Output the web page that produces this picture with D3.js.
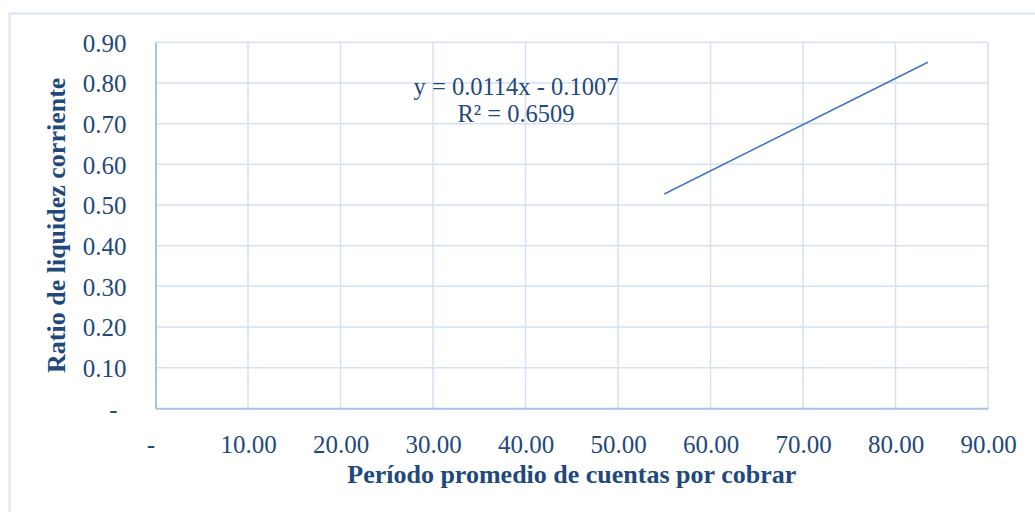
<!DOCTYPE html>
<html>
<head>
<meta charset="utf-8">
<script src="https://cdn.jsdelivr.net/npm/d3@7"></script>
<style>
  body { margin: 0; background: #fff; }
  svg { display: block; }
  .grid line { stroke: #d5e1f3; stroke-width: 1.5; }
  .tick text { fill: #1f497d; font-family: "Liberation Serif", serif; font-size: 25px; }
  .title { fill: #1f497d; font-family: "Liberation Serif", serif; font-weight: bold; font-size: 26px; }
  .eq { fill: #1f497d; font-family: "Liberation Serif", serif; font-size: 24.5px; }
</style>
</head>
<body>
<div id="chart"></div>
<script>
// values
var xTicks = [0, 10, 20, 30, 40, 50, 60, 70, 80, 90];
var yTicks = [0, 0.1, 0.2, 0.3, 0.4, 0.5, 0.6, 0.7, 0.8, 0.9];
var trendX = [55.0, 83.5];
var trendY = [0.527, 0.851];
var eqLines = ["y = 0.0114x - 0.1007", "R² = 0.6509"];
var xTitle = "Período promedio de cuentas por cobrar";
var yTitle = "Ratio de liquidez corriente";

var W = 1035, H = 512;
var margin = {top: 42.3, right: 47, bottom: 103.7, left: 155.5},
    width = W - margin.left - margin.right,
    height = H - margin.top - margin.bottom;

var svg = d3.select("#chart").append("svg")
    .attr("width", W)
    .attr("height", H);

// outer chart border (runs off the bottom/right of the picture)
svg.append("rect")
    .attr("x", 9.5).attr("y", 13.5)
    .attr("width", W + 20).attr("height", H + 20)
    .attr("fill", "none")
    .attr("stroke", "#d9e3f3")
    .attr("stroke-width", 2);

var g = svg.append("g")
    .attr("transform", "translate(" + margin.left + "," + margin.top + ")");

var x = d3.scaleLinear().domain([0, 90]).range([0, width]);
var y = d3.scaleLinear().domain([0, 0.9]).range([height, 0]);

// gridlines
g.append("g").attr("class", "grid")
  .selectAll("line").data(yTicks.slice(1)).enter().append("line")
    .attr("x1", 0).attr("x2", width)
    .attr("y1", function(d) { return y(d); })
    .attr("y2", function(d) { return y(d); });

g.append("g").attr("class", "grid")
  .selectAll("line").data(xTicks.slice(1)).enter().append("line")
    .attr("y1", 0).attr("y2", height)
    .attr("x1", function(d) { return x(d); })
    .attr("x2", function(d) { return x(d); });

// axes
var fmt = function(d) { return d === 0 ? "-" : d3.format(".2f")(d); };

var xAxis = g.append("g")
    .attr("transform", "translate(0," + height + ")")
    .call(d3.axisBottom(x).tickValues(xTicks).tickFormat(fmt).tickSize(0).tickPadding(22));
xAxis.select(".domain").attr("stroke", "#a7c1e8").attr("stroke-width", 2);
xAxis.selectAll(".tick text").attr("dy", "0.9em");
xAxis.selectAll(".tick text").filter(function(d) { return d === 0; }).attr("dx", -5);

var yAxis = g.append("g")
    .call(d3.axisLeft(y).tickValues(yTicks).tickFormat(fmt).tickSize(0).tickPadding(29));
yAxis.select(".domain").attr("stroke", "#a7c1e8").attr("stroke-width", 2);
yAxis.selectAll(".tick text").attr("dy", "0.36em");
yAxis.selectAll(".tick text").filter(function(d) { return d === 0; }).attr("dx", -9);

// trendline
var line = d3.line()
    .x(function(d) { return x(d[0]); })
    .y(function(d) { return y(d[1]); });

g.append("path")
    .datum(d3.zip(trendX, trendY))
    .attr("fill", "none")
    .attr("stroke", "#4472c4")
    .attr("stroke-width", 1.5)
    .attr("d", line);

// equation label
var eq = svg.append("text")
    .attr("class", "eq")
    .attr("text-anchor", "middle");
eq.append("tspan").attr("x", 516).attr("y", 95).text(eqLines[0]);
eq.append("tspan").attr("x", 516).attr("y", 121.5).text(eqLines[1]);

// axis titles
svg.append("text")
    .attr("class", "title")
    .attr("text-anchor", "middle")
    .attr("x", margin.left + width / 2)
    .attr("y", 483)
    .text(xTitle);

svg.append("text")
    .attr("class", "title")
    .attr("text-anchor", "middle")
    .attr("transform", "translate(65," + (margin.top + height / 2) + ") rotate(-90)")
    .text(yTitle);
</script>
</body>
</html>
